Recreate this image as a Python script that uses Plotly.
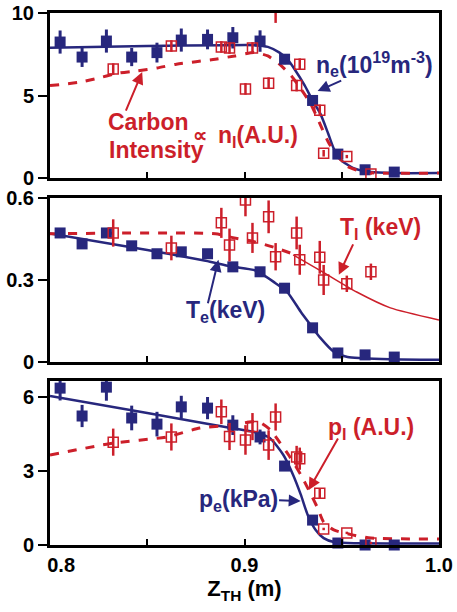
import plotly.graph_objects as go

BLUE = "#27277d"
RED = "#cc1f2a"
FONT = "Liberation Sans, Arial, sans-serif"

# ---------------- data ----------------
# Thomson (electron) chords
z_e = [0.8052, 0.8165, 0.829, 0.842, 0.855, 0.8675, 0.881, 0.894, 0.908, 0.9206, 0.935, 0.948, 0.962, 0.977]
ne = [8.24, 7.33, 8.3, 7.33, 7.6, 8.36, 8.4, 8.5, 8.3, 7.2, 4.7, 1.45, 0.5, 0.36]
ne_err = [0.7, 0.6, 0.7, 0.55, 0.6, 0.7, 0.6, 0.65, 0.65, 0.3, 0.3, 0.2, 0.1, 0.1]
Te = [0.472, 0.432, 0.472, 0.425, 0.396, 0.403, 0.396, 0.348, 0.33, 0.27, 0.125, 0.033, 0.026, 0.018]
pe = [6.36, 5.23, 6.4, 5.15, 4.9, 5.6, 5.55, 4.86, 4.38, 3.2, 1.01, 0.08, 0.0, 0.0]
pe_err = [0.5, 0.45, 0.55, 0.5, 0.5, 0.45, 0.45, 0.4, 0.3, 0.2, 0.1, 0.05, 0.05, 0.05]

# CER (ion / carbon) chords
z_i = [0.8325, 0.8624, 0.8881, 0.8923, 0.9005, 0.9041, 0.9124, 0.916, 0.9268, 0.9284, 0.9387, 0.9407, 0.9526, 0.965]
nI = [6.6, 8.0, 7.94, 7.88, 5.4, 7.88, 5.75, 10.5, 5.6, 6.9, 4.1, 1.5, 1.3, 0.25]
nI_err = [0.35, 0.35, 0.35, 0.35, 0.35, 0.35, 0.35, 1.1, 0.35, 0.35, 0.35, 0.2, 0.1, 0.05]
TI = [0.472, 0.417, 0.509, 0.428, 0.593, 0.454, 0.531, 0.385, 0.472, 0.374, 0.383, 0.30, 0.286, 0.33]
TI_err = [0.05, 0.045, 0.055, 0.06, 0.06, 0.055, 0.06, 0.05, 0.06, 0.055, 0.06, 0.055, 0.03, 0.03]
pI = [4.17, 4.38, 5.4, 4.4, 4.26, 4.8, 4.05, 5.19, 3.57, 3.5, 2.1, 0.65, 0.49, 0.08]
pI_err = [0.55, 0.55, 0.5, 0.55, 0.6, 0.55, 0.6, 0.55, 0.45, 0.45, 0.2, 0.05, 0.05, 0.05]

# fitted profiles
fit_ne_z = [0.80, 0.85, 0.89, 0.905, 0.912, 0.918, 0.922, 0.926, 0.931, 0.935, 0.939, 0.943, 0.946, 0.9495, 0.956, 0.965, 0.977, 1.0]
fit_ne = [7.9, 8.0, 8.05, 8.05, 7.95, 7.6, 7.2, 6.55, 5.6, 4.7, 3.9, 2.7, 1.75, 1.1, 0.6, 0.36, 0.3, 0.3]
fit_C_z = [0.80, 0.815, 0.823, 0.835, 0.845, 0.855, 0.865, 0.875, 0.885, 0.895, 0.905, 0.912, 0.918, 0.924, 0.929, 0.934, 0.938, 0.943, 0.948, 0.953, 0.960, 0.968, 1.0]
fit_C = [5.6, 5.8, 6.0, 6.35, 6.5, 6.67, 6.9, 7.05, 7.2, 7.4, 7.6, 7.4, 6.9, 6.2, 5.4, 4.5, 3.5, 2.2, 1.3, 0.7, 0.4, 0.3, 0.3]
fit_Te_z = [0.80, 0.85, 0.88, 0.893, 0.9046, 0.908, 0.915, 0.922, 0.929, 0.934, 0.939, 0.946, 0.953, 0.96, 0.975, 1.0]
fit_Te = [0.47, 0.41, 0.37, 0.35, 0.337, 0.326, 0.293, 0.256, 0.183, 0.135, 0.088, 0.037, 0.018, 0.014, 0.01, 0.008]
fit_TI_dash_z = [0.80, 0.885, 0.894, 0.905, 0.915, 0.925]
fit_TI_dash = [0.469, 0.469, 0.455, 0.44, 0.42, 0.395]
fit_TI_solid_z = [0.925, 0.941, 0.9577, 0.975, 1.0]
fit_TI_solid = [0.392, 0.326, 0.256, 0.198, 0.154]
fit_pe_z = [0.80, 0.85, 0.893, 0.905, 0.913, 0.920, 0.925, 0.929, 0.9325, 0.9366, 0.9407, 0.946, 0.953, 1.0]
fit_pe = [6.04, 5.35, 4.74, 4.58, 4.34, 3.65, 2.84, 2.03, 1.22, 0.61, 0.28, 0.12, 0.08, 0.06]
fit_pI_z = [0.80, 0.8325, 0.86, 0.877, 0.893, 0.907, 0.9134, 0.918, 0.9227, 0.929, 0.933, 0.9376, 0.9407, 0.9459, 0.956, 0.965, 1.0]
fit_pI = [3.65, 4.13, 4.38, 4.74, 4.86, 5.0, 4.66, 4.17, 3.65, 2.84, 2.23, 1.5, 0.93, 0.61, 0.4, 0.28, 0.24]

xticks = [0.8, 0.9, 1.0]
xticktext = ["\u00a0\u00a0\u00a0\u00a00.8", "0.9", "1.0"]

fig = go.Figure()

def panel(k, fits, blue_y, blue_err, red_y, red_err):
    xa = "x" if k == 1 else f"x{k}"
    ya = "y" if k == 1 else f"y{k}"
    for (fz, fy, col, dash, w) in fits:
        fig.add_trace(go.Scatter(x=fz, y=fy, mode="lines", xaxis=xa, yaxis=ya,
                                 line=dict(color=col, width=w, dash=dash, shape="spline", smoothing=0.6),
                                 showlegend=False, hoverinfo="skip"))
    fig.add_trace(go.Scatter(x=z_e, y=blue_y, mode="markers", xaxis=xa, yaxis=ya,
                             marker=dict(symbol="square", size=11, color=BLUE),
                             error_y=(dict(type="data", array=blue_err, color=BLUE, thickness=3, width=0)
                                      if blue_err else None),
                             cliponaxis=False, showlegend=False))
    fig.add_trace(go.Scatter(x=z_i, y=red_y, mode="markers", xaxis=xa, yaxis=ya,
                             marker=dict(symbol="square-open", size=10, color=RED, line=dict(width=1.5)),
                             error_y=dict(type="data", array=red_err, color=RED, thickness=2.5, width=0),
                             cliponaxis=True, showlegend=False))

panel(1, [(fit_ne_z, fit_ne, BLUE, "solid", 2.5), (fit_C_z, fit_C, RED, "dash", 3)], ne, ne_err, nI, nI_err)
panel(2, [(fit_Te_z, fit_Te, BLUE, "solid", 2.5), (fit_TI_dash_z, fit_TI_dash, RED, "dash", 3),
          (fit_TI_solid_z, fit_TI_solid, RED, "solid", 1.5)], Te, None, TI, TI_err)
panel(3, [(fit_pe_z, fit_pe, BLUE, "solid", 2.5), (fit_pI_z, fit_pI, RED, "dash", 3)], pe, pe_err, pI, pI_err)

tickfont = dict(family=FONT, size=20, color="black", weight="bold")
domains = {1: [0.6898, 1.0], 2: [0.344, 0.6523], 3: [0.0, 0.3083]}
yranges = {1: [0, 10], 2: [0, 0.6], 3: [0, 6.65]}
ytickvals = {1: [0, 5, 10], 2: [0, 0.3, 0.6], 3: [0, 3, 6]}
yticktext = {1: ["0", "5", "10"], 2: ["0", "0.3", "0.6"], 3: ["0", "3", "6"]}

lay = {}
for k in (1, 2, 3):
    xk = "xaxis" if k == 1 else f"xaxis{k}"
    yk = "yaxis" if k == 1 else f"yaxis{k}"
    lay[xk] = dict(domain=[0, 1], range=[0.8, 1.0], anchor="y" if k == 1 else f"y{k}",
                   showline=True, mirror=True, linewidth=3, linecolor="black",
                   ticks="inside", ticklen=6, tickwidth=1.5, tickcolor="black",
                   tickvals=xticks, ticktext=xticktext, showticklabels=(k == 3),
                   tickfont=tickfont, showgrid=False, zeroline=False, automargin=False,
                   minor=dict(dtick=0.05, tick0=0.8, ticks="inside", ticklen=6, tickwidth=1.5, tickcolor="black"))
    lay[yk] = dict(domain=domains[k], range=yranges[k], anchor="x" if k == 1 else f"x{k}",
                   showline=True, mirror=True, linewidth=3, linecolor="black",
                   ticks="outside", ticklen=9, tickwidth=2, tickcolor="black",
                   tickvals=ytickvals[k], ticktext=yticktext[k], tickfont=tickfont,
                   showgrid=False, zeroline=False, automargin=False)

lay["xaxis3"]["title"] = dict(text="Z<sub>TH</sub> (m)", font=dict(family=FONT, size=22, color="black", weight="bold"),
                              standoff=4)

afont_b = dict(family=FONT, size=23, color=BLUE, weight="bold")
afont_r = dict(family=FONT, size=23, color=RED, weight="bold")

annotations = [
    dict(x=0.967, y=6.9, xref="x", yref="y", text="n<sub>e</sub>(10<sup>19</sup>m<sup>-3</sup>)", font=afont_b, showarrow=False),
    dict(x=0.8505, y=3.4, xref="x", yref="y", text="Carbon", font=afont_r, showarrow=False),
    dict(x=0.8546, y=1.7, xref="x", yref="y", text="Intensity", font=afont_r, showarrow=False),
    dict(x=0.877, y=2.6, xref="x", yref="y", text="\u221d", font=dict(family=FONT, size=20, color=RED, weight="bold"), showarrow=False),
    dict(x=0.907, y=2.5, xref="x", yref="y", text="n<sub>I</sub>(A.U.)", font=afont_r, showarrow=False),
    dict(x=0.970, y=0.49, xref="x2", yref="y2", text="T<sub>I</sub> (keV)", font=afont_r, showarrow=False),
    dict(x=0.890, y=0.183, xref="x2", yref="y2", text="T<sub>e</sub>(keV)", font=afont_b, showarrow=False),
    dict(x=0.965, y=4.74, xref="x3", yref="y3", text="p<sub>I</sub> (A.U.)", font=afont_r, showarrow=False),
    dict(x=0.897, y=1.82, xref="x3", yref="y3", text="p<sub>e</sub>(kPa)", font=afont_b, showarrow=False),
]
arrows = [
    ("x", "y", 0.9505, 5.94, 0.9376, 5.27, BLUE),
    ("x", "y", 0.8387, 4.0, 0.8474, 6.42, RED),
    ("x2", "y2", 0.9562, 0.436, 0.9485, 0.319, RED),
    ("x2", "y2", 0.881, 0.209, 0.8866, 0.374, BLUE),
    ("x3", "y3", 0.9485, 4.38, 0.933, 2.23, RED),
    ("x3", "y3", 0.917, 1.82, 0.9289, 1.78, BLUE),
]
for xr, yr, tx, ty, hx, hy, col in arrows:
    annotations.append(dict(x=hx, y=hy, ax=tx, ay=ty, xref=xr, yref=yr, axref=xr, ayref=yr,
                            text="", showarrow=True, arrowhead=2, arrowsize=1.2, arrowwidth=2,
                            arrowcolor=col))

fig.update_layout(width=457, height=612, margin=dict(l=50, r=18, t=13, b=67, autoexpand=False),
                  paper_bgcolor="white", plot_bgcolor="white",
                  annotations=annotations, showlegend=False, **lay)

fig.write_html("out.html", config={"displayModeBar": False})
